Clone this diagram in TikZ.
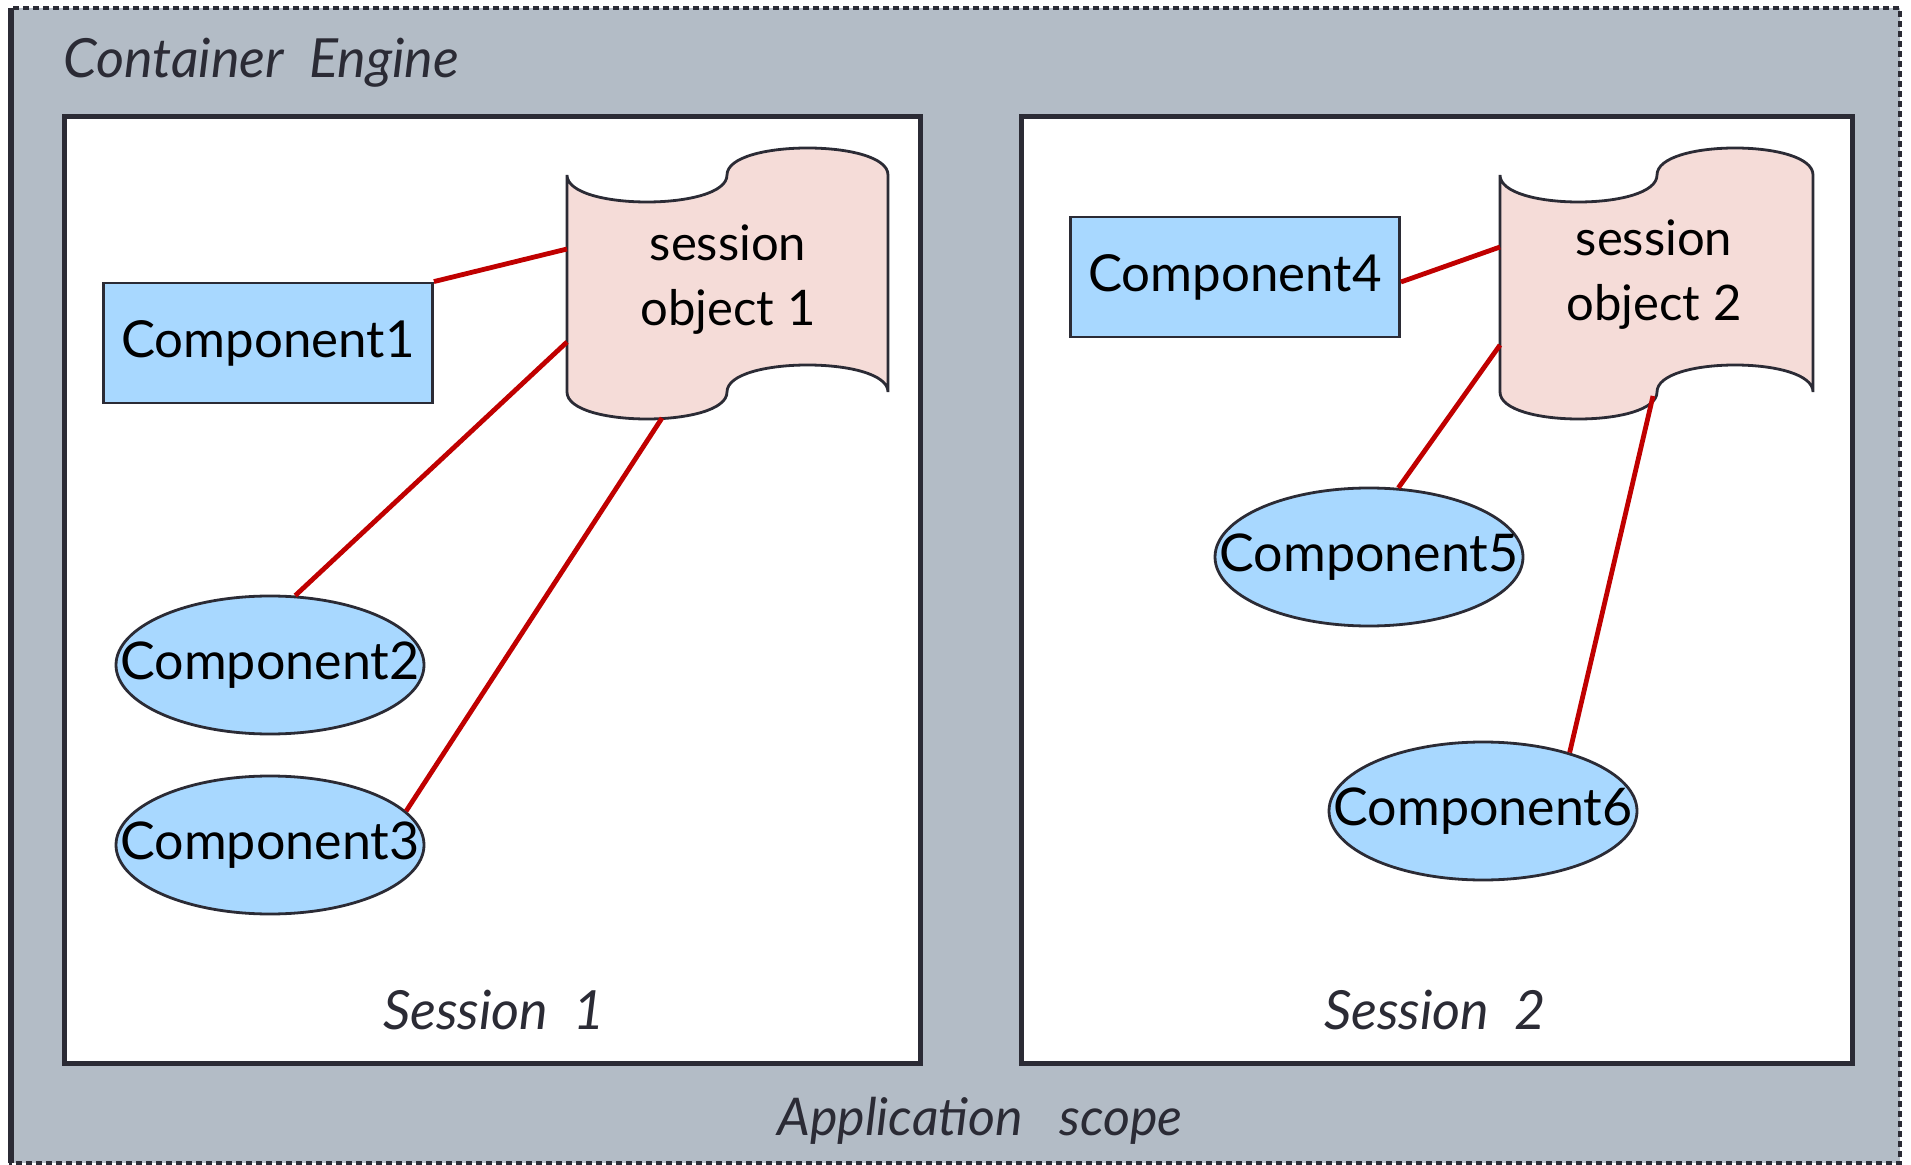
\documentclass[tikz,border=0pt]{standalone}
\usepackage{fontspec}
\setmainfont{Lato}
\definecolor{scopegray}{RGB}{179,188,198}
\definecolor{edge}{RGB}{43,43,53}
\definecolor{compblue}{RGB}{168,216,255}
\definecolor{sesspink}{RGB}{245,220,216}
\definecolor{linkred}{RGB}{192,0,0}
\usetikzlibrary{shapes.geometric}
% text that does not widen the ellipse around it
\newcommand{\compname}[1]{\makebox[0pt][c]{#1}}
\tikzset{
  sessionbox/.style={draw=edge, line width=2.5pt, fill=white},
  comprect/.style={draw=edge, line width=1.4pt, fill=compblue, rectangle,
    minimum width=164.5pt, minimum height=60pt, inner sep=0pt, font=\fontsize{25.5}{30}\selectfont},
  compoval/.style={draw=edge, line width=1.4pt, fill=compblue, ellipse,
    minimum width=154pt, minimum height=69pt, inner sep=0pt, font=\fontsize{26}{30}\selectfont},
  tape/.style={draw=edge, line width=1.4pt, fill=sesspink},
  tapetext/.style={align=center, font=\fontsize{24.5}{32.5}\selectfont},
  label/.style={text=edge, font=\itshape\fontsize{26}{30}\selectfont},
  conn/.style={draw=linkred, line width=2.4pt},
}
\begin{document}
\begin{tikzpicture}[x=0.5pt, y=-0.5pt]
\useasboundingbox (0,0) rectangle (1911,1165);

% application scope frame
\fill[scopegray] (11,8) rectangle (1900,1163);
\draw[edge, line width=1.6pt, dash pattern=on 3pt off 2pt] (11,8) rectangle (1900,1163);
\draw[edge, line width=2.6pt] (11,8) -- (11,1163);
\node[label, font=\itshape\fontsize{27}{30}\selectfont, anchor=base west] (engine) at (56,78) {Container\ \ Engine};
\node[label, anchor=base] (appscope) at (980,1135) {Application\ \ \ scope};

% sessions
\draw[sessionbox] (64,117) rectangle (920,1063);
\draw[sessionbox] (1021,117) rectangle (1852,1063);
\node[label, font=\itshape\fontsize{27}{30}\selectfont, anchor=base] (sess1) at (494,1029) {Session\ \ 1};
\node[label, font=\itshape\fontsize{27}{30}\selectfont, anchor=base] (sess2) at (1435,1029) {Session\ \ 2};

% session object 1
\draw[tape] (567,175) .. controls (567,211) and (727,211) .. (727,175)
  .. controls (727,139) and (888,139) .. (888,175) -- (888,392)
  .. controls (888,356) and (727,356) .. (727,392)
  .. controls (727,428) and (567,428) .. (567,392) -- cycle;
\node[tapetext] (so1) at (728,280) {session\\object 1};
\coordinate (so1a) at (567,249);
\coordinate (so1b) at (567,342);
\coordinate (so1c) at (662,418);

% session object 2
\draw[tape] (1500,175) .. controls (1500,211) and (1657,211) .. (1657,175)
  .. controls (1657,139) and (1813,139) .. (1813,175) -- (1813,392)
  .. controls (1813,356) and (1657,356) .. (1657,392)
  .. controls (1657,428) and (1500,428) .. (1500,392) -- cycle;
\node[tapetext] (so2) at (1654,275) {session\\object 2};
\coordinate (so2a) at (1500,247);
\coordinate (so2b) at (1500,345);
\coordinate (so2c) at (1653,396);

% components
\node[comprect] (c1) at (268,343) {Component1};
\node[compoval] (c2) at (270,665) {\compname{Component2}};
\node[compoval] (c3) at (270,845) {\compname{Component3}};
\node[comprect] (c4) at (1235,277) {Component4};
\node[compoval] (c5) at (1369,557) {\compname{Component5}};
\node[compoval] (c6) at (1483,811) {\compname{Component6}};

% links to the session objects
\draw[conn] (c1.north east) -- (so1a);
\draw[conn] (c2.70) -- (so1b);
\draw[conn] (c3.14) -- (so1c);
\draw[conn] ([yshift=-2.5pt]c4.east) -- (so2a);
\draw[conn] (c5.67) -- (so2b);
\draw[conn] (c6.34) -- (so2c);
\end{tikzpicture}
\end{document}
